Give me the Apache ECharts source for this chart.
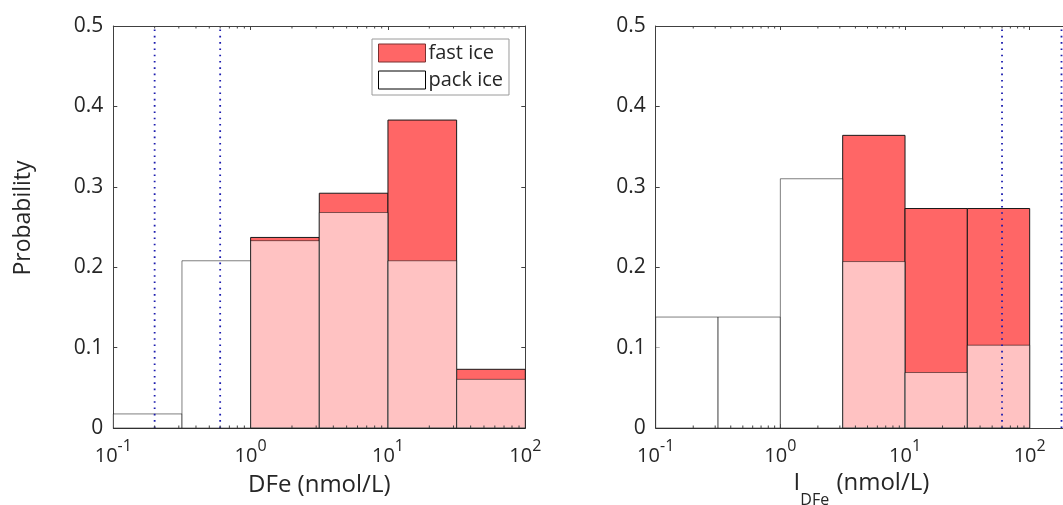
<!DOCTYPE html>
<html>
<head>
<meta charset="utf-8">
<script src="https://cdn.jsdelivr.net/npm/echarts@6/dist/echarts.min.js"></script>
<style>
html,body{margin:0;padding:0;background:#fff;}
#chart{width:1063px;height:505px;}
</style>
</head>
<body>
<div id="chart"></div>
<script>
// ---- data ----
const BIN_EDGES = [0.1, 0.3162, 1, 3.162, 10, 31.62, 100];
const DFE_FAST = [0, 0, 0.237, 0.292, 0.383, 0.073];
const DFE_PACK = [0.0175, 0.208, 0.233, 0.268, 0.208, 0.0605];
const IDFE_FAST = [0, 0, 0, 0.364, 0.273, 0.273];
const IDFE_PACK = [0.138, 0.138, 0.310, 0.207, 0.069, 0.103];
const DFE_REF_LINES = [0.2, 0.6];
const IDFE_REF_LINES = [60, 180];
const Y_TICKS = [0, 0.1, 0.2, 0.3, 0.4, 0.5];
const LEFT_XLIM = [0.1, 100];
const RIGHT_XLIM = [0.1, 200];
const MINOR_MULT = [2, 3, 4, 5, 6, 7, 8, 9];
const DECADES = [0.1, 1, 10, 100];

const FONT = 'Open Sans';
const TXT = '#262626';
const AXC = '#404040';

function bins(vals) {
  const out = [];
  vals.forEach((v, i) => { if (v > 0) out.push([BIN_EDGES[i], BIN_EDGES[i + 1], v]); });
  return out;
}
function minorTicks(xlim) {
  const out = [];
  DECADES.forEach(d => MINOR_MULT.forEach(m => {
    const v = d * m;
    if (v > xlim[0] && v < xlim[1]) out.push([v]);
  }));
  return out;
}

const chart = echarts.init(document.getElementById('chart'), null, {renderer: 'canvas'});

function xLabelFmt(v) {
  const l = Math.log10(v);
  const e = Math.round(l);
  if (Math.abs(l - e) > 1e-6) return '';
  return '{b|10}{s|' + e + '}';
}
const xRich = {
  b: {fontSize: 20, fontFamily: FONT, color: TXT, verticalAlign: 'bottom', lineHeight: 28},
  s: {fontSize: 16, fontFamily: FONT, color: TXT, verticalAlign: 'top', lineHeight: 16}
};

function xAxes(grid, xlim, name, nameRich) {
  return [
    {
      type: 'log', logBase: 10, gridIndex: grid, min: xlim[0], max: xlim[1], position: 'bottom',
      axisLine: {show: true, onZero: false, lineStyle: {color: AXC, width: 1}},
      axisTick: {show: true, inside: true, length: 4, lineStyle: {color: AXC}},
      axisLabel: {show: true, formatter: xLabelFmt, rich: xRich, margin: 10},
      splitLine: {show: false},
      name: name, nameLocation: 'middle', nameGap: 43,
      nameTextStyle: {fontSize: 24, fontFamily: FONT, color: TXT, lineHeight: 28, rich: nameRich}
    },
    {
      type: 'log', logBase: 10, gridIndex: grid, min: xlim[0], max: xlim[1], position: 'top',
      axisLine: {show: true, onZero: false, lineStyle: {color: AXC, width: 1}},
      axisTick: {show: true, inside: true, length: 4, lineStyle: {color: AXC}},
      axisLabel: {show: false},
      splitLine: {show: false}
    }
  ];
}
function yAxes(grid, name) {
  return [
    {
      type: 'value', gridIndex: grid, min: 0, max: 0.5, interval: 0.1, position: 'left',
      axisLine: {show: true, onZero: false, lineStyle: {color: AXC, width: 1}},
      axisTick: {show: true, inside: true, length: 4, lineStyle: {color: AXC}},
      axisLabel: {show: true, margin: 10, fontSize: 21, fontFamily: FONT, color: TXT,
        formatter: v => (Y_TICKS.indexOf(+v.toFixed(1)) >= 0 ? (v === 0 ? '0' : v.toFixed(1)) : '')},
      splitLine: {show: false},
      name: name, nameLocation: 'middle', nameRotate: 90, nameGap: 78,
      nameTextStyle: {fontSize: 23, fontFamily: FONT, color: TXT, padding: [0, 0, 0, 18]}
    },
    {
      type: 'value', gridIndex: grid, min: 0, max: 0.5, interval: 0.1, position: 'right',
      axisLine: {show: true, onZero: false, lineStyle: {color: AXC, width: 1}},
      axisTick: {show: true, inside: true, length: 4, lineStyle: {color: AXC}},
      axisLabel: {show: false},
      splitLine: {show: false}
    }
  ];
}

function barSeries(name, data, xi, yi, style, z) {
  return {
    type: 'custom', name: name, xAxisIndex: xi, yAxisIndex: yi, z: z,
    data: data,
    encode: {x: [0, 1], y: 2},
    itemStyle: {color: style.fill, borderColor: style.stroke, borderWidth: 1},
    renderItem: function (params, api) {
      const p0 = api.coord([api.value(0), 0]);
      const p1 = api.coord([api.value(1), api.value(2)]);
      return {
        type: 'rect',
        shape: {x: p0[0], y: p1[1], width: p1[0] - p0[0], height: p0[1] - p1[1]},
        style: {fill: style.fill, stroke: style.stroke, lineWidth: 1}
      };
    }
  };
}
function refLineSeries(data, xi, yi) {
  return {
    type: 'custom', xAxisIndex: xi, yAxisIndex: yi, z: 6, silent: true,
    data: data.map(v => [v]),
    encode: {x: 0},
    renderItem: function (params, api) {
      const a = api.coord([api.value(0), 0]);
      const b = api.coord([api.value(0), 0.5]);
      return {
        type: 'line',
        shape: {x1: a[0], y1: a[1], x2: b[0], y2: b[1]},
        style: {stroke: '#1c1cae', lineWidth: 1.8, lineDash: [1.6, 4.7]}
      };
    }
  };
}
function minorSeries(xlim, xi, yi) {
  return {
    type: 'custom', xAxisIndex: xi, yAxisIndex: yi, z: 7, silent: true,
    data: minorTicks(xlim),
    encode: {x: 0},
    renderItem: function (params, api) {
      const a = api.coord([api.value(0), 0]);
      const b = api.coord([api.value(0), 0.5]);
      const st = {stroke: AXC, lineWidth: 1};
      return {
        type: 'group',
        children: [
          {type: 'line', shape: {x1: a[0], y1: a[1], x2: a[0], y2: a[1] - 2.5}, style: st},
          {type: 'line', shape: {x1: b[0], y1: b[1], x2: b[0], y2: b[1] + 2.5}, style: st}
        ]
      };
    }
  };
}

const FAST_STYLE = {fill: '#FF6666', stroke: '#1a1a1a'};
const PACK_STYLE = {fill: 'rgba(255,255,255,0.6)', stroke: 'rgba(0,0,0,0.5)'};

const option = {
  animation: false,
  backgroundColor: '#fff',
  grid: [
    {left: 113.3, top: 26, width: 412, height: 402, containLabel: false, outerBoundsMode: 'none'},
    {left: 655.7, top: 26, width: 411.5, height: 402, containLabel: false, outerBoundsMode: 'none'}
  ],
  xAxis: [].concat(
    xAxes(0, LEFT_XLIM, 'DFe (nmol/L)', {}),
    xAxes(1, RIGHT_XLIM, '{m|I}{sub|DFe}{m| (nmol/L)}', {
      m: {fontSize: 24, fontFamily: FONT, color: TXT, verticalAlign: 'top', lineHeight: 28},
      sub: {fontSize: 16, fontFamily: FONT, color: TXT, verticalAlign: 'top', lineHeight: 16, padding: [21, 1, 0, 0]}
    })
  ),
  yAxis: [].concat(yAxes(0, 'Probability'), yAxes(1, '')),
  legend: {
    orient: 'vertical', left: 372, top: 39,
    backgroundColor: '#fff', borderColor: '#9a9a9a', borderWidth: 1,
    padding: [4, 6, 5, 6], itemGap: 7, itemWidth: 47, itemHeight: 18,
    icon: 'rect',
    textStyle: {fontSize: 20, fontFamily: FONT, color: TXT, padding: [0, 0, 0, -2]},
    data: [
      {name: 'fast ice', itemStyle: {color: '#FF6666', borderColor: '#7a3030', borderWidth: 1}},
      {name: 'pack ice', itemStyle: {color: '#ffffff', borderColor: '#000000', borderWidth: 1}}
    ]
  },
  series: [
    barSeries('fast ice', bins(DFE_FAST), 0, 0, FAST_STYLE, 2),
    barSeries('pack ice', bins(DFE_PACK), 0, 0, PACK_STYLE, 3),
    refLineSeries(DFE_REF_LINES, 0, 0),
    minorSeries(LEFT_XLIM, 0, 0),
    barSeries('fast ice', bins(IDFE_FAST), 2, 2, FAST_STYLE, 2),
    barSeries('pack ice', bins(IDFE_PACK), 2, 2, PACK_STYLE, 3),
    refLineSeries(IDFE_REF_LINES, 2, 2),
    minorSeries(RIGHT_XLIM, 2, 2)
  ]
};
chart.setOption(option);
</script>
</body>
</html>
